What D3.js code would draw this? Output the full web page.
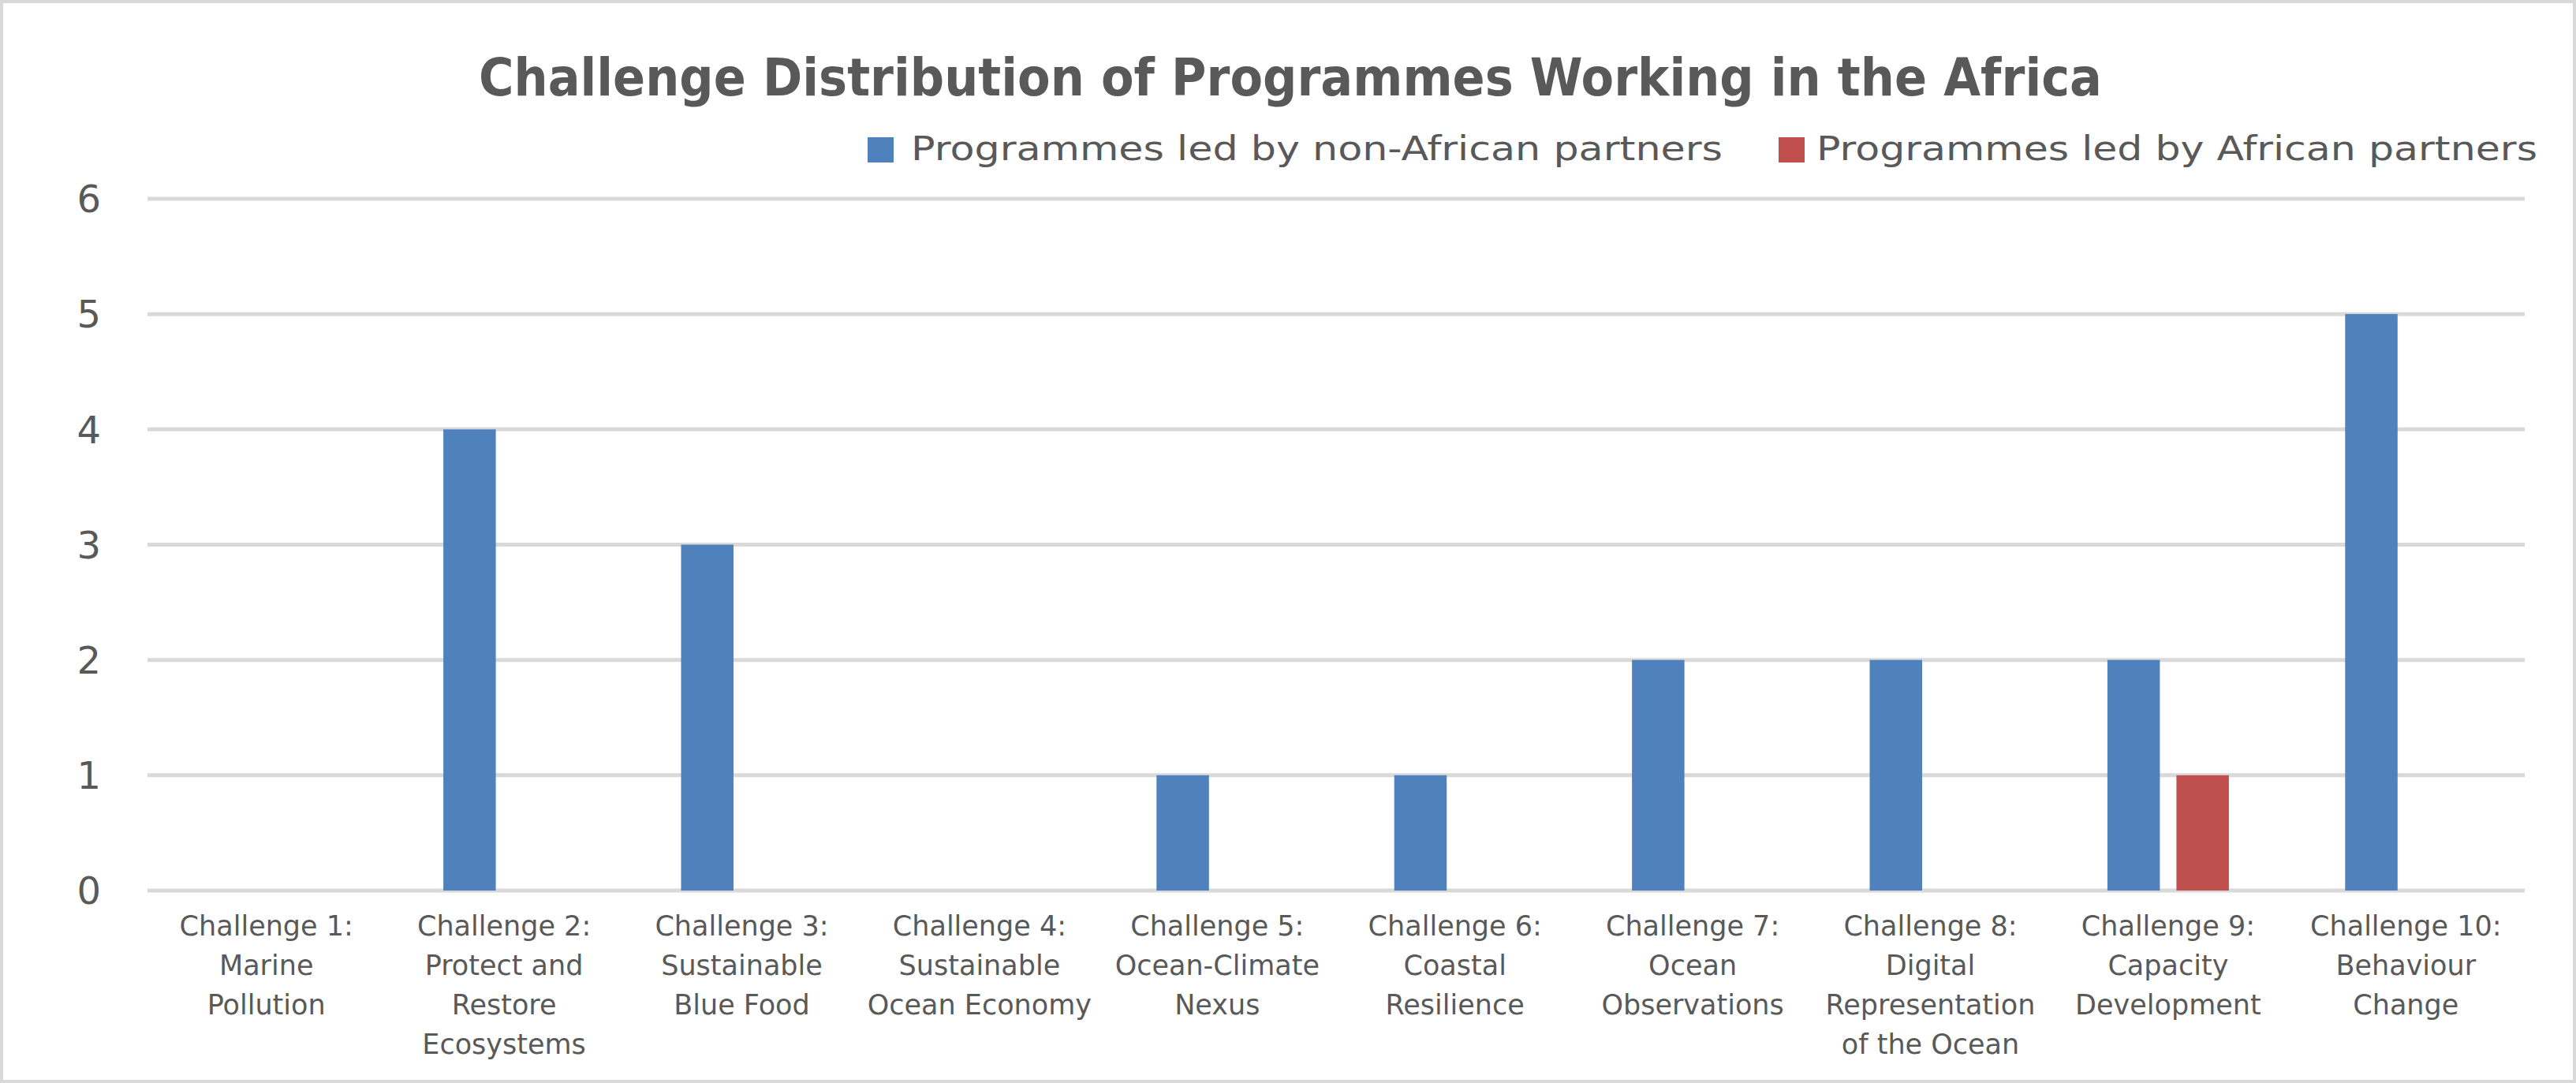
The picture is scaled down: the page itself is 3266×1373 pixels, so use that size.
<!DOCTYPE html>
<html>
<head>
<meta charset="utf-8">
<script src="https://cdn.jsdelivr.net/npm/d3@7"></script>
<style>
  html, body { margin: 0; padding: 0; background: #ffffff; }
  svg { display: block; }
  text { font-family: "DejaVu Sans", "Liberation Sans", sans-serif; fill: #595959; }
</style>
</head>
<body>
<svg id="chart" width="3266" height="1373"></svg>
<script>
const title = "Challenge Distribution of Programmes Working in the Africa";
const seriesNames = ["Programmes led by non-African partners", "Programmes led by African partners"];
const seriesColors = ["#4f81bd", "#c0504d"];
const categories = [
  ["Challenge 1:", "Marine", "Pollution"],
  ["Challenge 2:", "Protect and", "Restore", "Ecosystems"],
  ["Challenge 3:", "Sustainable", "Blue Food"],
  ["Challenge 4:", "Sustainable", "Ocean Economy"],
  ["Challenge 5:", "Ocean-Climate", "Nexus"],
  ["Challenge 6:", "Coastal", "Resilience"],
  ["Challenge 7:", "Ocean", "Observations"],
  ["Challenge 8:", "Digital", "Representation", "of the Ocean"],
  ["Challenge 9:", "Capacity", "Development"],
  ["Challenge 10:", "Behaviour", "Change"]
];
const nonAfrican = [0, 4, 3, 0, 1, 1, 2, 2, 2, 5];
const african    = [0, 0, 0, 0, 0, 0, 0, 0, 1, 0];
const yTicks = [0, 1, 2, 3, 4, 5, 6];

const svg = d3.select("#chart");
const W = 3266, H = 1373;

// outer border
svg.append("rect").attr("x", 2).attr("y", 2).attr("width", W - 4).attr("height", H - 4)
  .attr("fill", "#ffffff").attr("stroke", "#d9d9d9").attr("stroke-width", 4);

const plot = { left: 187, right: 3201, top: 252, bottom: 1129 };

const x0 = d3.scaleBand().domain(d3.range(categories.length)).range([plot.left, plot.right]).padding(0);
const groupW = 154;
const x1 = d3.scaleBand().domain([0, 1]).paddingInner(0.24).paddingOuter(0);
const y = d3.scaleLinear().domain([0, 6]).range([plot.bottom, plot.top]);

// gridlines
svg.append("g").selectAll("line").data(yTicks).join("line")
  .attr("x1", plot.left).attr("x2", plot.right)
  .attr("y1", d => y(d)).attr("y2", d => y(d))
  .attr("stroke", "#d9d9d9").attr("stroke-width", 5);

// y tick labels
svg.append("g").selectAll("text").data(yTicks).join("text")
  .attr("x", 128).attr("y", d => y(d))
  .attr("dy", "0.36em")
  .attr("text-anchor", "end")
  .style("font-size", "48px")
  .text(d => d);

// bars
const series = [nonAfrican, african];
const barG = svg.append("g");
categories.forEach((c, i) => {
  const bx = x0(i) + (x0.bandwidth() - groupW) / 2;
  x1.range([bx, bx + groupW]);
  series.forEach((s, k) => {
    if (s[i] > 0) {
      barG.append("rect")
        .attr("x", x1(k)).attr("width", x1.bandwidth())
        .attr("y", y(s[i])).attr("height", y(0) - y(s[i]))
        .attr("fill", seriesColors[k]);
    }
  });
});

// x category labels
const labG = svg.append("g");
const labY = 1186;
categories.forEach((lines, i) => {
  const cx = x0(i) + x0.bandwidth() / 2;
  const t = labG.append("text")
    .attr("x", cx)
    .attr("y", labY)
    .attr("text-anchor", "middle")
    .style("font-size", "35px");
  lines.forEach((ln, j) => {
    t.append("tspan").attr("x", cx).attr("y", labY + j * 50).text(ln);
  });
});

// title
svg.append("text")
  .attr("x", 607).attr("y", 121)
  .attr("textLength", 2058).attr("lengthAdjust", "spacingAndGlyphs")
  .style("font-size", "66px").style("font-weight", "bold")
  .text(title);

// legend
const legendItems = [
  { sx: 1100, tx: 1155, tw: 1029 },
  { sx: 2255, tx: 2303, tw: 914 }
];
legendItems.forEach((it, k) => {
  svg.append("rect").attr("x", it.sx).attr("y", 174).attr("width", 33).attr("height", 32)
    .attr("fill", seriesColors[k]);
  svg.append("text").attr("x", it.tx).attr("y", 203)
    .attr("textLength", it.tw).attr("lengthAdjust", "spacingAndGlyphs")
    .style("font-size", "43px").text(seriesNames[k]);
});
</script>
</body>
</html>
